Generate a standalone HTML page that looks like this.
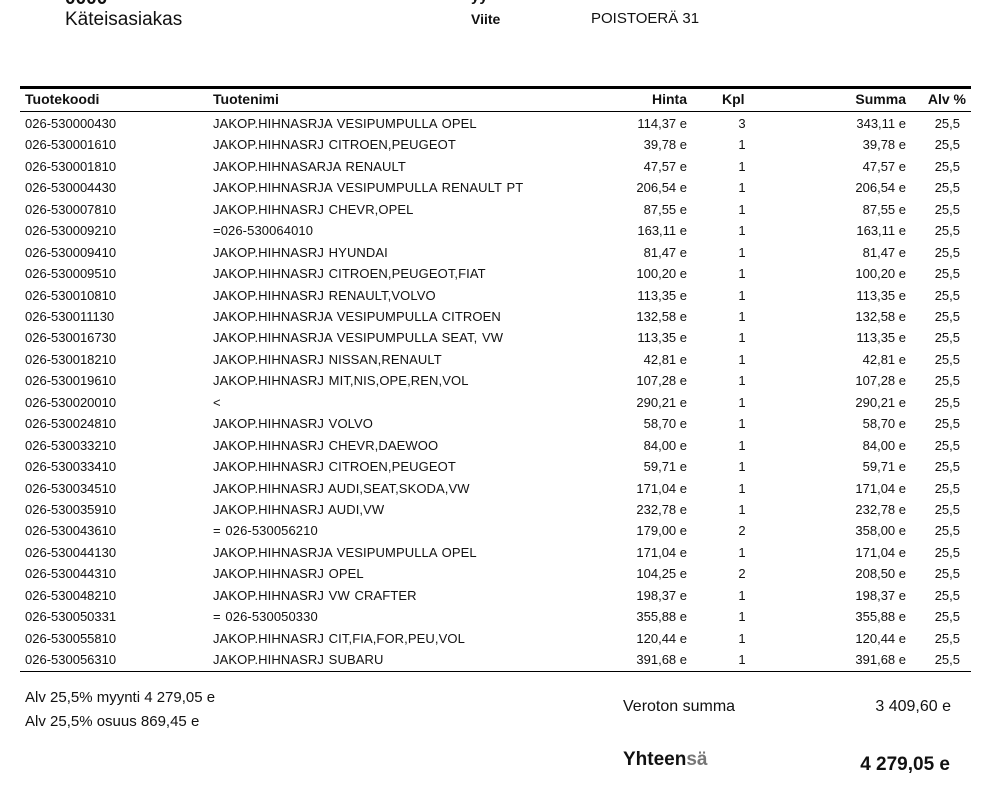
<!DOCTYPE html>
<html><head><meta charset="utf-8"><style>
body{margin:0;width:986px;height:804px;background:#fff;position:relative;overflow:hidden;font-family:"Liberation Sans",Arial,sans-serif;color:#111}
.a{position:absolute;white-space:nowrap}
.r{position:absolute;left:0;width:986px;height:21px;font-size:13px;line-height:16px}
.r span{position:absolute;top:0;white-space:nowrap}
.c{left:25px}.n{left:213px;letter-spacing:0.1px;word-spacing:1px}
.h{right:299px;text-align:right}.k{left:732px;width:20px;text-align:center}
.s{right:80px;text-align:right}.v{right:26px;text-align:right}
.hd span{font-weight:bold;font-size:14px}
</style></head><body>
<div class="a" style="left:65px;top:-12px;font-size:19px;font-weight:bold">0000</div>
<div class="a" style="left:471px;top:-12px;font-size:15px;font-weight:bold">yy</div>
<div class="a" style="left:65px;top:9px;font-size:19px">Käteisasiakas</div>
<div class="a" style="left:471px;top:11px;font-size:14px;font-weight:bold">Viite</div>
<div class="a" style="left:591px;top:10px;font-size:15px">POISTOERÄ 31</div>
<div class="a" style="left:20px;top:86px;width:951px;height:3px;background:#000"></div>
<div class="r hd" style="top:91px"><span class="c">Tuotekoodi</span><span class="n" style="letter-spacing:0">Tuotenimi</span><span class="h">Hinta</span><span style="left:722px">Kpl</span><span class="s">Summa</span><span class="v" style="right:20px">Alv %</span></div>
<div class="a" style="left:20px;top:111px;width:951px;height:1px;background:#000"></div>
<div class="r" style="top:116px"><span class="c">026-530000430</span><span class="n">JAKOP.HIHNASRJA VESIPUMPULLA OPEL</span><span class="h">114,37 e</span><span class="k">3</span><span class="s">343,11 e</span><span class="v">25,5</span></div>
<div class="r" style="top:137.4px"><span class="c">026-530001610</span><span class="n">JAKOP.HIHNASRJ CITROEN,PEUGEOT</span><span class="h">39,78 e</span><span class="k">1</span><span class="s">39,78 e</span><span class="v">25,5</span></div>
<div class="r" style="top:158.9px"><span class="c">026-530001810</span><span class="n">JAKOP.HIHNASARJA RENAULT</span><span class="h">47,57 e</span><span class="k">1</span><span class="s">47,57 e</span><span class="v">25,5</span></div>
<div class="r" style="top:180.3px"><span class="c">026-530004430</span><span class="n">JAKOP.HIHNASRJA VESIPUMPULLA RENAULT PT</span><span class="h">206,54 e</span><span class="k">1</span><span class="s">206,54 e</span><span class="v">25,5</span></div>
<div class="r" style="top:201.8px"><span class="c">026-530007810</span><span class="n">JAKOP.HIHNASRJ CHEVR,OPEL</span><span class="h">87,55 e</span><span class="k">1</span><span class="s">87,55 e</span><span class="v">25,5</span></div>
<div class="r" style="top:223.2px"><span class="c">026-530009210</span><span class="n">=026-530064010</span><span class="h">163,11 e</span><span class="k">1</span><span class="s">163,11 e</span><span class="v">25,5</span></div>
<div class="r" style="top:244.6px"><span class="c">026-530009410</span><span class="n">JAKOP.HIHNASRJ HYUNDAI</span><span class="h">81,47 e</span><span class="k">1</span><span class="s">81,47 e</span><span class="v">25,5</span></div>
<div class="r" style="top:266.1px"><span class="c">026-530009510</span><span class="n">JAKOP.HIHNASRJ CITROEN,PEUGEOT,FIAT</span><span class="h">100,20 e</span><span class="k">1</span><span class="s">100,20 e</span><span class="v">25,5</span></div>
<div class="r" style="top:287.5px"><span class="c">026-530010810</span><span class="n">JAKOP.HIHNASRJ RENAULT,VOLVO</span><span class="h">113,35 e</span><span class="k">1</span><span class="s">113,35 e</span><span class="v">25,5</span></div>
<div class="r" style="top:309px"><span class="c">026-530011130</span><span class="n">JAKOP.HIHNASRJA VESIPUMPULLA CITROEN</span><span class="h">132,58 e</span><span class="k">1</span><span class="s">132,58 e</span><span class="v">25,5</span></div>
<div class="r" style="top:330.4px"><span class="c">026-530016730</span><span class="n">JAKOP.HIHNASRJA VESIPUMPULLA SEAT, VW</span><span class="h">113,35 e</span><span class="k">1</span><span class="s">113,35 e</span><span class="v">25,5</span></div>
<div class="r" style="top:351.8px"><span class="c">026-530018210</span><span class="n">JAKOP.HIHNASRJ NISSAN,RENAULT</span><span class="h">42,81 e</span><span class="k">1</span><span class="s">42,81 e</span><span class="v">25,5</span></div>
<div class="r" style="top:373.3px"><span class="c">026-530019610</span><span class="n">JAKOP.HIHNASRJ MIT,NIS,OPE,REN,VOL</span><span class="h">107,28 e</span><span class="k">1</span><span class="s">107,28 e</span><span class="v">25,5</span></div>
<div class="r" style="top:394.7px"><span class="c">026-530020010</span><span class="n">&lt;</span><span class="h">290,21 e</span><span class="k">1</span><span class="s">290,21 e</span><span class="v">25,5</span></div>
<div class="r" style="top:416.2px"><span class="c">026-530024810</span><span class="n">JAKOP.HIHNASRJ VOLVO</span><span class="h">58,70 e</span><span class="k">1</span><span class="s">58,70 e</span><span class="v">25,5</span></div>
<div class="r" style="top:437.6px"><span class="c">026-530033210</span><span class="n">JAKOP.HIHNASRJ CHEVR,DAEWOO</span><span class="h">84,00 e</span><span class="k">1</span><span class="s">84,00 e</span><span class="v">25,5</span></div>
<div class="r" style="top:459px"><span class="c">026-530033410</span><span class="n">JAKOP.HIHNASRJ CITROEN,PEUGEOT</span><span class="h">59,71 e</span><span class="k">1</span><span class="s">59,71 e</span><span class="v">25,5</span></div>
<div class="r" style="top:480.5px"><span class="c">026-530034510</span><span class="n">JAKOP.HIHNASRJ AUDI,SEAT,SKODA,VW</span><span class="h">171,04 e</span><span class="k">1</span><span class="s">171,04 e</span><span class="v">25,5</span></div>
<div class="r" style="top:501.9px"><span class="c">026-530035910</span><span class="n">JAKOP.HIHNASRJ AUDI,VW</span><span class="h">232,78 e</span><span class="k">1</span><span class="s">232,78 e</span><span class="v">25,5</span></div>
<div class="r" style="top:523.4px"><span class="c">026-530043610</span><span class="n">= 026-530056210</span><span class="h">179,00 e</span><span class="k">2</span><span class="s">358,00 e</span><span class="v">25,5</span></div>
<div class="r" style="top:544.8px"><span class="c">026-530044130</span><span class="n">JAKOP.HIHNASRJA VESIPUMPULLA OPEL</span><span class="h">171,04 e</span><span class="k">1</span><span class="s">171,04 e</span><span class="v">25,5</span></div>
<div class="r" style="top:566.2px"><span class="c">026-530044310</span><span class="n">JAKOP.HIHNASRJ OPEL</span><span class="h">104,25 e</span><span class="k">2</span><span class="s">208,50 e</span><span class="v">25,5</span></div>
<div class="r" style="top:587.7px"><span class="c">026-530048210</span><span class="n">JAKOP.HIHNASRJ VW CRAFTER</span><span class="h">198,37 e</span><span class="k">1</span><span class="s">198,37 e</span><span class="v">25,5</span></div>
<div class="r" style="top:609.1px"><span class="c">026-530050331</span><span class="n">= 026-530050330</span><span class="h">355,88 e</span><span class="k">1</span><span class="s">355,88 e</span><span class="v">25,5</span></div>
<div class="r" style="top:630.6px"><span class="c">026-530055810</span><span class="n">JAKOP.HIHNASRJ CIT,FIA,FOR,PEU,VOL</span><span class="h">120,44 e</span><span class="k">1</span><span class="s">120,44 e</span><span class="v">25,5</span></div>
<div class="r" style="top:652px"><span class="c">026-530056310</span><span class="n">JAKOP.HIHNASRJ SUBARU</span><span class="h">391,68 e</span><span class="k">1</span><span class="s">391,68 e</span><span class="v">25,5</span></div>
<div class="a" style="left:20px;top:671px;width:951px;height:1px;background:#000"></div>
<div class="a" style="left:25px;top:689px;font-size:15px">Alv 25,5% myynti 4 279,05 e</div>
<div class="a" style="left:25px;top:713px;font-size:15px">Alv 25,5% osuus 869,45 e</div>
<div class="a" style="left:623px;top:698px;font-size:16px">Veroton summa</div>
<div class="a" style="right:35px;top:698px;font-size:16px">3 409,60 e</div>
<div class="a" style="left:623px;top:749px;font-size:19px;font-weight:bold">Yhteen<span style="color:#777">sä</span></div>
<div class="a" style="right:36px;top:754px;font-size:19px;font-weight:bold">4 279,05 e</div>
</body></html>
